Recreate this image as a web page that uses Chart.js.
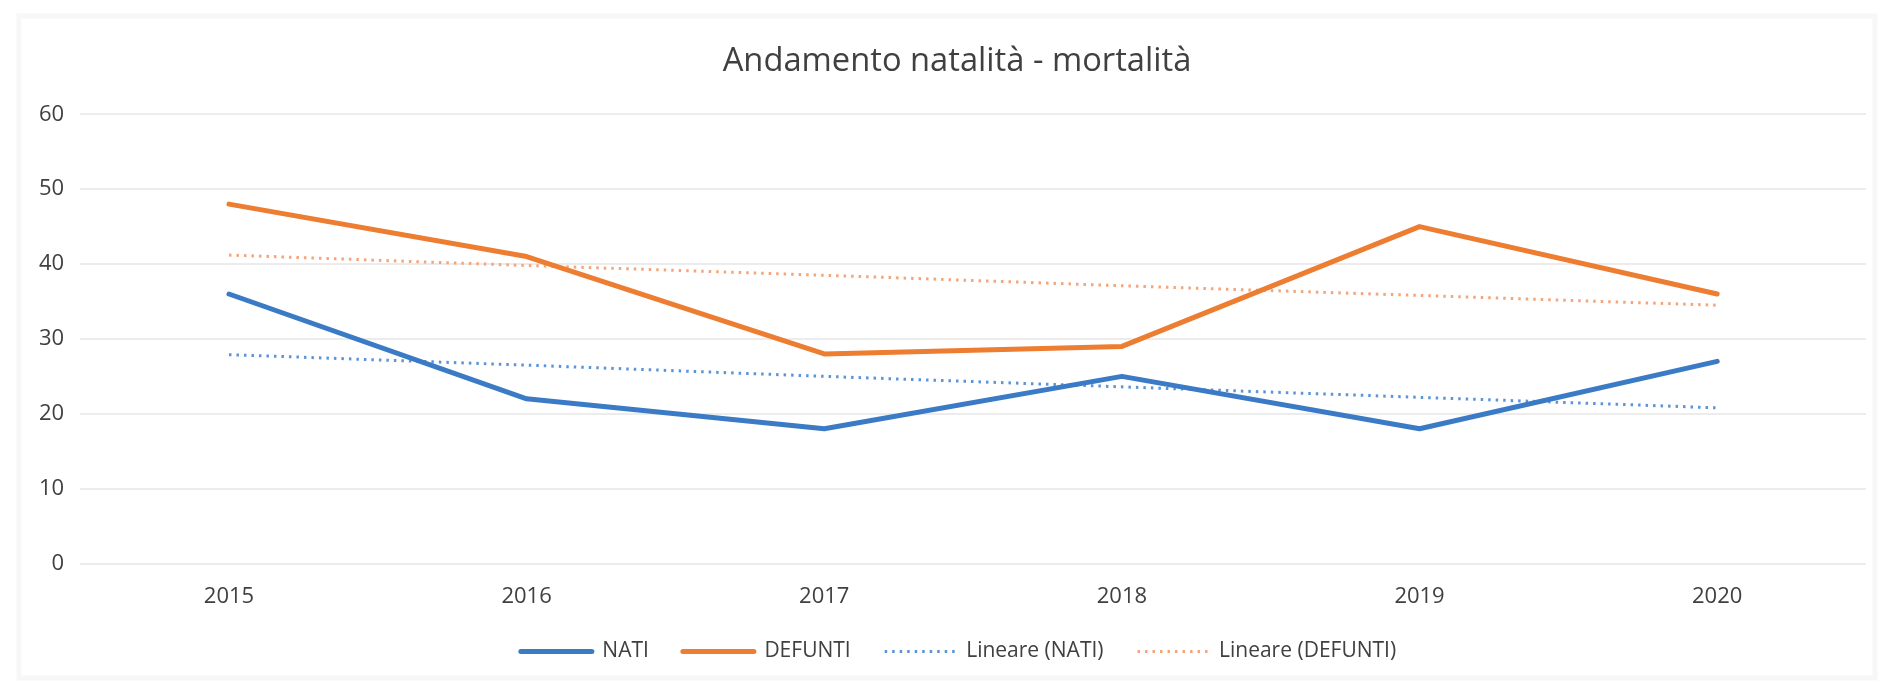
<!DOCTYPE html>
<html>
<head>
<meta charset="utf-8">
<script src="https://cdn.jsdelivr.net/npm/chart.js@4"></script>
<style>
  html, body { margin: 0; padding: 0; background: #fff; }
  #wrap { width: 1882px; height: 683px; }
</style>
</head>
<body>
<div id="wrap"><canvas id="chart" width="1882" height="683"></canvas></div>
<script>
// values
const years = ["2015", "2016", "2017", "2018", "2019", "2020"];
const nati = [36, 22, 18, 25, 18, 27];
const defunti = [48, 41, 28, 29, 45, 36];
// Excel linear trendlines
const trendNati = [27.9, 26.5, 25.0, 23.6, 22.2, 20.8];
const trendDefunti = [41.2, 39.8, 38.5, 37.1, 35.8, 34.5];
const yTicks = [0, 10, 20, 30, 40, 50, 60];

const textColor = "#404040";

// faint outer frame of the Excel chart object; title and legend centred on the frame
const frame = {
  id: "frame",
  afterLayout(chart) {
    if (chart.titleBlock) chart.titleBlock.left += 25;
    if (chart.legend) chart.legend.left += 28;
  },
  beforeDraw(chart) {
    const { ctx, width, height } = chart;
    ctx.save();
    ctx.fillStyle = "#fff";
    ctx.fillRect(0, 0, width, height);
    ctx.strokeStyle = "#f7f7f7";
    ctx.lineWidth = 5;
    ctx.strokeRect(19, 16, width - 26, height - 21);
    ctx.restore();
  },
};

new Chart(document.getElementById("chart").getContext("2d"), {
  type: "line",
  data: {
    labels: years,
    datasets: [
      {
        label: "NATI",
        data: nati,
        borderColor: "#3b7bc6",
        backgroundColor: "#3b7bc6",
        borderWidth: 5,
        borderCapStyle: "round",
        borderJoinStyle: "round",
        pointRadius: 0,
        pointStyle: "line",
        tension: 0,
        order: 1,
      },
      {
        label: "DEFUNTI",
        data: defunti,
        borderColor: "#ed7d31",
        backgroundColor: "#ed7d31",
        borderWidth: 5,
        borderCapStyle: "round",
        borderJoinStyle: "round",
        pointRadius: 0,
        pointStyle: "line",
        tension: 0,
        order: 2,
      },
      {
        label: "Lineare (NATI)",
        data: trendNati,
        borderColor: "#5b95d8",
        backgroundColor: "#5b95d8",
        borderWidth: 3,
        borderDash: [2.5, 5],
        borderCapStyle: "butt",
        pointRadius: 0,
        pointStyle: "line",
        tension: 0,
        order: 3,
      },
      {
        label: "Lineare (DEFUNTI)",
        data: trendDefunti,
        borderColor: "#f4a57a",
        backgroundColor: "#f4a57a",
        borderWidth: 3,
        borderDash: [2.5, 5],
        borderCapStyle: "butt",
        pointRadius: 0,
        pointStyle: "line",
        tension: 0,
        order: 4,
      },
    ],
  },
  options: {
    responsive: false,
    animation: false,
    layout: { padding: { left: 23, right: 16, top: 0, bottom: 11 } },
    scales: {
      x: {
        offset: true,
        grid: { display: false, drawTicks: false },
        border: { display: false },
        ticks: { color: textColor, font: { family: "Open Sans", size: 22 }, padding: 20, maxRotation: 0 },
        // pull the legend up closer to the year labels
        afterFit: (axis) => { axis.height -= 23; },
      },
      y: {
        min: 0,
        max: 60,
        afterBuildTicks: (axis) => { axis.ticks = yTicks.map((v) => ({ value: v })); },
        grid: { color: "#ececec", lineWidth: 2, drawTicks: false },
        border: { display: false },
        ticks: { color: textColor, font: { family: "Open Sans", size: 22 }, padding: 16 },
      },
    },
    plugins: {
      title: {
        display: true,
        text: "Andamento natalità - mortalità",
        color: textColor,
        font: { family: "Open Sans", size: 32.7, weight: "normal" },
        padding: { top: 42, bottom: 33 },
      },
      legend: {
        position: "bottom",
        labels: {
          color: textColor,
          font: { family: "Open Sans", size: 21 },
          usePointStyle: true,
          pointStyleWidth: 71,
          boxHeight: 21,
          padding: 34,
          sort: (a, b) => a.datasetIndex - b.datasetIndex,
          // legend samples take the line's own width and dash
          generateLabels: (chart) =>
            Chart.defaults.plugins.legend.labels.generateLabels(chart).map((item) => {
              const ds = chart.data.datasets[item.datasetIndex];
              item.lineWidth = ds.borderWidth;
              item.lineDash = ds.borderDash || [];
              item.lineCap = ds.borderCapStyle;
              return item;
            }),
        },
      },
      tooltip: { enabled: false },
    },
  },
  plugins: [frame],
});
</script>
</body>
</html>
